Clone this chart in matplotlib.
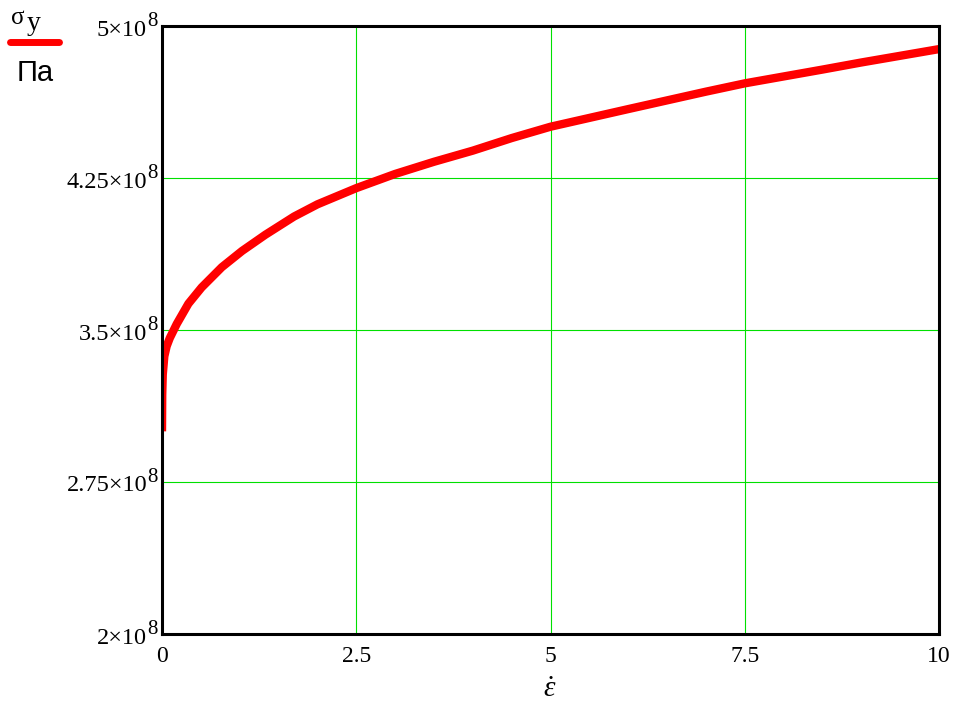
import matplotlib

matplotlib.use("Agg")
import matplotlib.pyplot as plt
from matplotlib import transforms
from matplotlib.lines import Line2D

# strain rate vs yield stress
eps_dot = [0.0, 0.003, 0.01, 0.03, 0.06, 0.1, 0.19, 0.34, 0.51, 0.77, 1.03,
           1.33, 1.7, 2.0, 2.5, 3.0, 3.5, 4.0, 4.5, 5.0, 6.0, 7.0, 7.5,
           8.5, 9.0, 10.0]
sigma_y = [3.00e8, 3.18e8, 3.28e8, 3.37e8, 3.42e8, 3.46e8, 3.53e8, 3.63e8,
           3.71e8, 3.81e8, 3.89e8, 3.97e8, 4.06e8, 4.12e8, 4.20e8, 4.27e8,
           4.33e8, 4.385e8, 4.447e8, 4.503e8, 4.59e8, 4.676e8, 4.717e8,
           4.785e8, 4.82e8, 4.886e8]

x_ticks = [0, 2.5, 5, 7.5, 10]
x_labels = ["0", "2.5", "5", "7.5", "10"]
y_ticks = [2e8, 2.75e8, 3.5e8, 4.25e8, 5e8]
y_mant = ["2", "2.75", "3.5", "4.25", "5"]

plt.rcParams["mathtext.fontset"] = "custom"
plt.rcParams["mathtext.rm"] = "Liberation Serif"
plt.rcParams["mathtext.it"] = "Liberation Serif:italic"

SERIF = "Liberation Serif"
W, H = 971, 712
fig = plt.figure(figsize=(W / 100, H / 100), dpi=100)
ax = fig.add_axes([162 / W, 1 - 634 / H, (939 - 162) / W, (634 - 26) / H])

ax.plot(eps_dot, sigma_y, color="#ff0000", lw=6, solid_capstyle="butt",
        solid_joinstyle="round", zorder=3)

ax.set_xlim(0, 10)
ax.set_ylim(2e8, 5e8)
ax.set_xticks(x_ticks)
ax.set_xticklabels(x_labels, fontfamily=SERIF, fontsize=17)
ax.set_yticks(y_ticks)
ax.set_yticklabels([])
ax.tick_params(length=0, pad=9)
ax.grid(True, color="#00e000", lw=0.8)
ax.set_axisbelow(True)
for s in ax.spines.values():
    s.set_linewidth(2.2)
    s.set_color("black")
    s.set_zorder(5)

# Mathcad-style y labels: "4.25x10" with a raised 8
tr = transforms.blended_transform_factory(ax.transAxes, ax.transData)
for v, m in zip(y_ticks, y_mant):
    t_main = transforms.offset_copy(tr, fig=fig, x=-15 * 0.72, y=-4 * 0.72,
                                    units="points")
    t_sup = transforms.offset_copy(tr, fig=fig, x=-4 * 0.72, y=4.5 * 0.72,
                                   units="points")
    ax.text(0, v, m + "\u00d710", transform=t_main, ha="right", va="center",
            fontfamily=SERIF, fontsize=17.5)
    ax.text(0, v, "8", transform=t_sup, ha="right", va="center",
            fontfamily=SERIF, fontsize=15)

# x label: epsilon dot
fig.text(550 / W, 1 - 689 / H, r"$\dot{\varepsilon}$", ha="center",
         va="center", fontsize=21)

# y label block (top-left): sigma_y over a red line, unit below
fig.text(11 / W, 1 - 18 / H, "\u03c3", ha="left", va="center",
         fontfamily=SERIF, fontsize=18)
fig.text(27 / W, 1 - 23 / H, "y", ha="left", va="center",
         fontfamily=SERIF, fontsize=20)
fig.add_artist(Line2D([10 / W, 59 / W], [1 - 42 / H, 1 - 42 / H],
                      transform=fig.transFigure, color="#ff0000", lw=5,
                      solid_capstyle="round"))
fig.text(17 / W, 1 - 73 / H, "\u041f\u0430", ha="left", va="center",
         fontfamily="Liberation Sans", fontsize=21)

fig.savefig("out.png", dpi=100)
plt.close(fig)
